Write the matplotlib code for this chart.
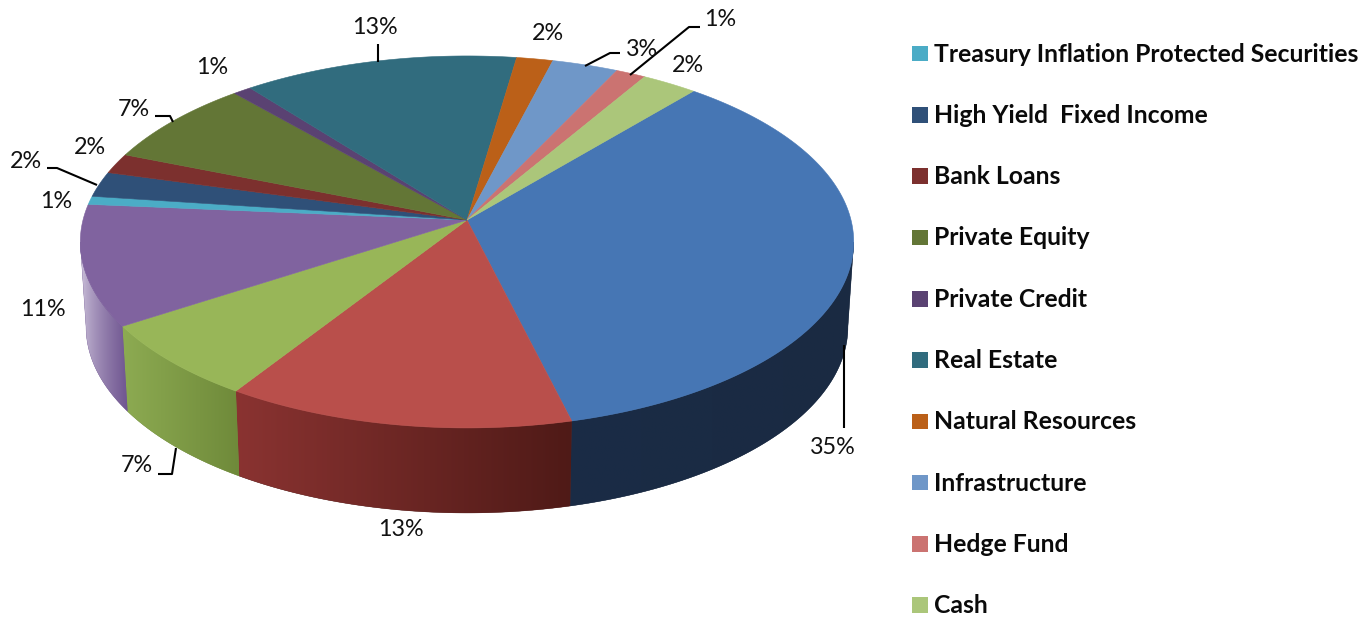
import numpy as np
import matplotlib
matplotlib.use("Agg")
import matplotlib.pyplot as plt
from matplotlib.colors import to_rgb
from matplotlib.patches import Polygon, Rectangle

# ---------- data ----------
slice_values = [35.0, 13.0, 6.75, 10.5, 0.72, 2.2, 1.75, 7.5, 0.86, 12.9, 1.7, 3.1, 1.4, 2.6]
slice_labels = ["35%", "13%", "7%", "11%", "1%", "2%", "2%", "7%", "1%", "13%", "2%", "3%", "1%", "2%"]
legend_names = ["Treasury Inflation Protected Securities", "High Yield  Fixed Income", "Bank Loans",
                "Private Equity", "Private Credit", "Real Estate", "Natural Resources",
                "Infrastructure", "Hedge Fund", "Cash"]

# ---------- style / layout ----------
top_colors = ["#4676b4", "#b94f4b", "#98b658", "#80639f", "#4bacc6", "#2f5078", "#7c302e",
              "#637636", "#5a4272", "#316c7e", "#bb6018", "#6f97c8", "#cb7371", "#abc67a"]
# side shading at the screen-left and screen-right end of each visible side wall
side_left = {0: "#1a2c46", 1: "#8a3331", 2: "#8dab52", 3: "#d8cfe4"}
side_right = {0: "#1a2a42", 1: "#4f1a17", 2: "#6f8a3a", 3: "#6f5590"}
legend_first = 4
label_pos = [(833, 447), (401, 530), (137, 466), (43, 309), (56, 202), (26, 161), (90, 147),
             (134, 109), (212, 67), (375, 28), (548, 33), (642, 49), (720, 20), (688, 65)]
leaders = [[(844, 345), (844, 428)], [(158, 474), (172, 474), (176, 448)],
           [(155, 116), (170, 116), (173, 122)], [(47, 168), (57, 168), (97, 185)],
           [(378, 44), (378, 62)], [(585, 66), (610, 53), (620, 53)], [(630, 75), (689, 27), (700, 27)]]
APEX_X, APEX_Y = 467, 220
C, B, K = 384, 183.4, -0.118
START = 40.0
DEPTH = 85
BOTTOM_SCALE = 0.985
FONT = "Lato"


def rim(theta_deg):
    t = np.radians(theta_deg)
    u, v = np.sin(t), -np.cos(t)
    w = 1 + K * v
    return APEX_X + C * u / w, APEX_Y + B * v / w


fig = plt.figure(figsize=(13.72, 6.17), dpi=100)
ax = fig.add_axes([0, 0, 1, 1])
ax.axis("off")

shares = np.array(slice_values, float)
edges = START + np.concatenate([[0], np.cumsum(shares)]) / shares.sum() * 360

# the wall is only seen between the rim's right-most and left-most points
grid = np.linspace(0, 360, 3601)
gx, _ = rim(grid)
theta_right, theta_left = grid[np.argmax(gx)], grid[np.argmin(gx)]

# side walls: horizontal gradient clipped to the extruded rim outline
for i in side_left:
    ts = np.linspace(max(edges[i], theta_right), min(edges[i + 1], theta_left), 200)
    x, y = rim(ts)
    xb = APEX_X + (x - APEX_X) * BOTTOM_SCALE
    yb = y + DEPTH
    outline = np.column_stack([np.r_[x, xb[::-1]], np.r_[y, yb[::-1]]])
    poly = Polygon(outline, closed=True, facecolor=side_right[i], edgecolor=side_right[i],
                   linewidth=0.3, zorder=1, transform=ax.transData)
    ax.add_patch(poly)
    x0, x1 = outline[:, 0].min(), outline[:, 0].max()
    y0, y1 = outline[:, 1].min(), outline[:, 1].max()
    c0, c1 = np.array(to_rgb(side_left[i])), np.array(to_rgb(side_right[i]))
    f = np.linspace(0, 1, 256)[None, :, None]
    if i == 3:
        f = f ** 0.6
    grad = c0[None, None, :] + (c1 - c0)[None, None, :] * f
    im = ax.imshow(grad, extent=(x0, x1, y1, y0), aspect="auto", interpolation="bilinear", zorder=1.1)
    im.set_clip_path(poly)

ax.set_xlim(0, 1372)
ax.set_ylim(617, 0)

# top face
for i in range(len(shares)):
    ts = np.linspace(edges[i], edges[i + 1], max(int(shares[i] * 6), 8))
    x, y = rim(ts)
    pts = [(APEX_X, APEX_Y)] + list(zip(x, y))
    ax.add_patch(Polygon(pts, closed=True, facecolor=top_colors[i], edgecolor=top_colors[i],
                         linewidth=0.4, zorder=2))

for pts in leaders:
    px, py = zip(*pts)
    ax.plot(px, py, color="black", lw=1.5, zorder=3, solid_capstyle="butt")

for lab, (lx, ly) in zip(slice_labels, label_pos):
    ax.text(lx, ly, lab, ha="center", va="center", fontsize=16.8, family=FONT, color="#111111", zorder=4)

for k, name in enumerate(legend_names):
    yc = 53.5 + 61.3 * k
    ax.add_patch(Rectangle((912, yc - 7.7), 16, 15.5, facecolor=top_colors[legend_first + k], edgecolor="none"))
    ax.text(934, yc + 8, name, ha="left", va="baseline", fontsize=17.8, family=FONT,
            fontweight="bold", color="#0a0a0a")

fig.savefig("out.png", dpi=100)
